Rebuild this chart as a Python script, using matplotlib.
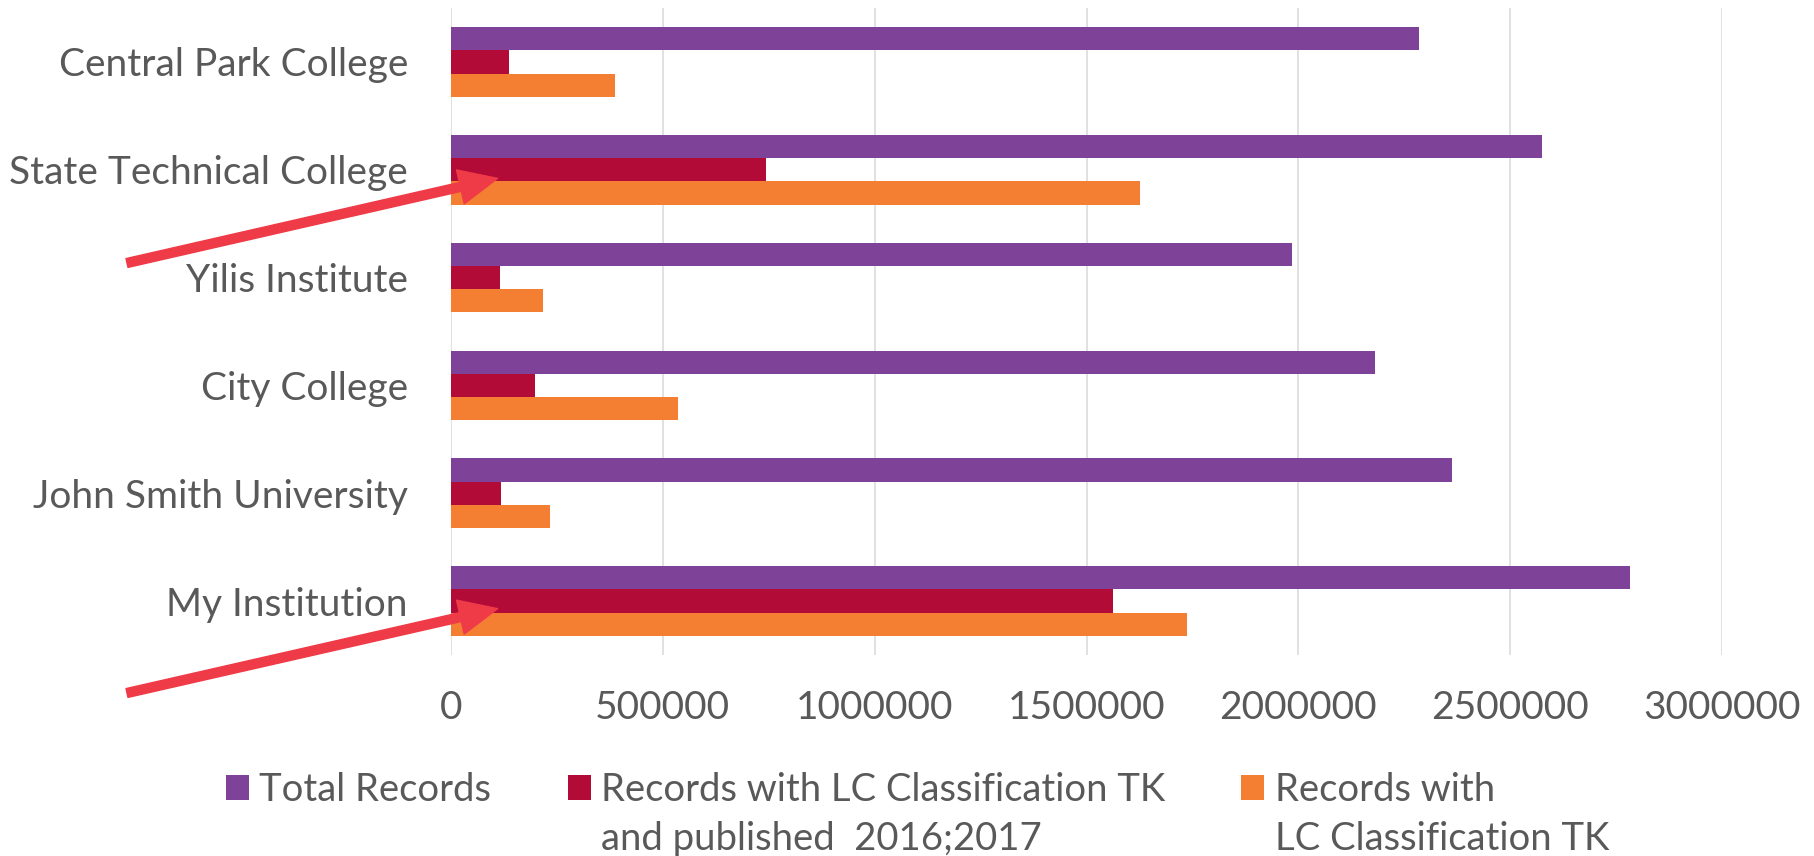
import numpy as np
import matplotlib.pyplot as plt

plt.rcParams['font.family'] = ['Lato', 'DejaVu Sans']

# Data
institutions = ["Central Park College", "State Technical College", "Yilis Institute",
                "City College", "John Smith University", "My Institution"]
total_records = [2285000, 2575000, 1985000, 2182000, 2362000, 2782000]
lc_recent = [137000, 743000, 115000, 199000, 117000, 1563000]
lc_records = [387000, 1627000, 216000, 535000, 233000, 1737000]

series_labels = ["Total Records",
                 "Records with LC Classification TK\nand published  2016;2017",
                 "Records with\nLC Classification TK"]
colors = ["#7E4398", "#B20B38", "#F47E32"]
x_ticks = [0, 500000, 1000000, 1500000, 2000000, 2500000, 3000000]

W, H = 1814, 856
fig = plt.figure(figsize=(W / 100, H / 100), dpi=100)
ax = fig.add_axes([451 / W, 1 - 655 / H, (1722 - 451) / W, (655 - 8) / H])

y = np.arange(len(institutions))
h = 0.215
first_lines = [lab.split("\n")[0] for lab in series_labels]
for offset, vals, col, lab in zip([-h, 0, h], [total_records, lc_recent, lc_records],
                                  colors, first_lines):
    ax.barh(y + offset, vals, height=h, color=col, label=lab)

ax.set_ylim(len(institutions) - 0.5, -0.5)
ax.set_yticks(y)
ax.set_yticklabels(institutions)
ax.set_xlim(0, 3000000)
ax.set_xticks(x_ticks)
ax.set_xticklabels([str(t) for t in x_ticks])

ax.grid(axis='x', color='#D9D9D9', linewidth=1.1)
ax.set_axisbelow(True)
for s in ax.spines.values():
    s.set_visible(False)
ax.tick_params(axis='both', length=0, labelsize=28, labelcolor='#595959')
ax.tick_params(axis='y', pad=31)
ax.tick_params(axis='x', pad=25)

# red arrows pointing at the small bars
arrow_targets = [(110000, 1.08, 593), (110000, 5.07, 163)]
for tx, ty, tail_y in arrow_targets:
    ax.annotate('', xy=(tx, ty), xycoords='data',
                xytext=(127, tail_y), textcoords='figure pixels',
                arrowprops=dict(arrowstyle='simple,head_length=0.55,head_width=0.5,tail_width=0.13',
                                mutation_scale=50, color='#EF3B47',
                                shrinkA=0, shrinkB=0),
                annotation_clip=False, zorder=10)

legend_fs = 27.5
leg = fig.legend(loc='upper left', bbox_to_anchor=(226 / W, 1 - 772 / H), ncol=3,
                 frameon=False, fontsize=legend_fs, handlelength=0.6, handleheight=0.6,
                 handletextpad=0.27, columnspacing=2.0, borderpad=0, borderaxespad=0,
                 labelcolor='#595959')

# second lines of the wrapped legend labels, placed under the first lines
fig.canvas.draw()
renderer = fig.canvas.get_renderer()
for t, lab in zip(leg.get_texts(), series_labels):
    parts = lab.split("\n")
    if len(parts) < 2:
        continue
    bb = t.get_window_extent(renderer)
    fig.text(bb.x0, bb.y0 - 49, parts[1], fontsize=legend_fs, color='#595959',
             ha='left', va='bottom', transform=None)

plt.savefig("out.png", dpi=100)
